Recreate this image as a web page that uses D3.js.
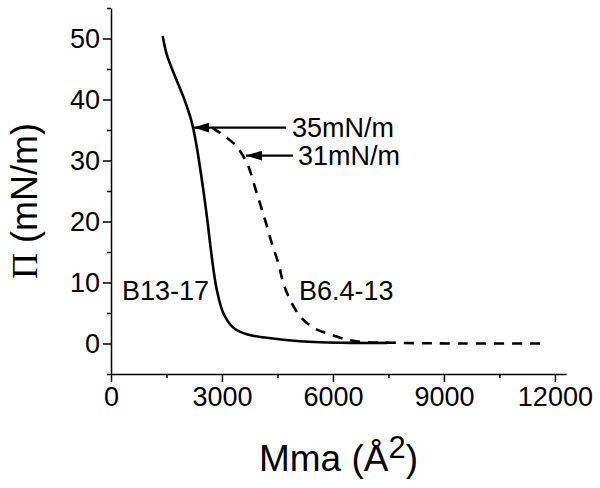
<!DOCTYPE html>
<html>
<head>
<meta charset="utf-8">
<script src="https://cdn.jsdelivr.net/npm/d3@7"></script>
<style>
  body { margin: 0; background: #fff; }
  svg { display: block; font-family: "Liberation Sans", Arial, sans-serif; }
</style>
</head>
<body>
<div id="chart"></div>
<script>
// B13-17 isotherm (solid): mean molecular area vs surface pressure
const solidArea = [1397, 1506, 1730, 1954, 2135, 2210, 2290, 2360, 2495, 2603, 2722, 2857, 3035, 3306, 3668, 4209, 5109, 6460, 7460];
const solidPi   = [50.4, 47.4, 43.8, 40.5, 37.3, 35.6, 33.2, 30.7, 25.2, 20.3, 14.3, 8.9, 5.0, 2.6, 1.5, 0.93, 0.38, 0.11, 0.1];

// B6.4-13 isotherm (dashed)
const dashArea = [2730, 3000, 3352, 3576, 3711, 3938, 4163, 4344, 4522, 4657, 4838, 5109, 5468, 5920, 6371, 6730, 7812, 9500, 11812];
const dashPi   = [35.4, 34.3, 32.6, 30.7, 29.1, 24.7, 20.3, 16.5, 13.2, 9.95, 7.2, 4.5, 2.6, 1.5, 0.66, 0.3, 0.1, 0.0, 0.0];

// axes
const xTicks = [0, 3000, 6000, 9000, 12000];
const xMinor = [1500, 4500, 7500, 10500];
const yTicks = [0, 10, 20, 30, 40, 50];
const yMinor = [-5, 5, 15, 25, 35, 45, 55];

// arrow annotations: tip area, tail area, pressure, text
const arrowLabels = ["35mN/m", "31mN/m"];
const arrowTip    = [2230, 3650];
const arrowTail   = [4730, 4920];
const arrowPi     = [35.4, 30.8];
const arrowTextX  = [4892, 5054];

// curve labels
const curveLabels = ["B13-17", "B6.4-13"];
const curveLabelX = [297, 5082];
const curveLabelY = [7.2, 7.2];

const width = 600, height = 488;
const margin = { left: 111, right: 34, top: 8, bottom: 114 };

const svg = d3.select('#chart')
    .append('svg')
    .attr('width', width)
    .attr('height', height);

const x = d3.scaleLinear().domain([0, 12300]).range([margin.left, width - margin.right]);
const y = d3.scaleLinear().domain([-5, 55]).range([height - margin.bottom, margin.top]);

const fs = 27;

// minor ticks
svg.append('g')
    .attr('transform', `translate(0,${y(-5)})`)
    .call(d3.axisBottom(x).tickValues(xMinor).tickSize(4).tickFormat(''))
    .call(g => g.select('.domain').remove())
    .selectAll('line').attr('stroke-width', 1.5);

svg.append('g')
    .attr('transform', `translate(${x(0)},0)`)
    .call(d3.axisLeft(y).tickValues(yMinor).tickSize(4).tickFormat(''))
    .call(g => g.select('.domain').remove())
    .selectAll('line').attr('stroke-width', 1.5);

// major axes
const xAxis = svg.append('g')
    .attr('transform', `translate(0,${y(-5)})`)
    .call(d3.axisBottom(x).tickValues(xTicks).tickSize(8).tickPadding(5).tickSizeOuter(0).tickFormat(d3.format('d')));

const yAxis = svg.append('g')
    .attr('transform', `translate(${x(0)},0)`)
    .call(d3.axisLeft(y).tickValues(yTicks).tickSize(8).tickPadding(3).tickSizeOuter(0).tickFormat(d3.format('d')));

[xAxis, yAxis].forEach(g => {
    g.select('.domain').attr('stroke-width', 1.5);
    g.selectAll('line').attr('stroke-width', 1.5);
    g.selectAll('text')
        .attr('font-family', '"Liberation Sans", Arial, sans-serif')
        .attr('font-size', fs)
        .attr('fill', '#000');
});

// axis titles
const xTitle = svg.append('text')
    .attr('x', (x.range()[0] + x.range()[1]) / 2)
    .attr('y', 471)
    .attr('text-anchor', 'middle')
    .attr('font-size', 37);
xTitle.append('tspan').text('Mma (Å');
xTitle.append('tspan').attr('dy', -13).attr('font-size', 31).text('2');
xTitle.append('tspan').attr('dy', 13).text(')');

const yTitle = svg.append('text')
    .attr('transform', `translate(37,${(y.range()[0] + y.range()[1]) / 2 + 10}) rotate(-90)`)
    .attr('text-anchor', 'middle')
    .attr('font-size', 36);
yTitle.append('tspan').attr('font-family', '"Liberation Serif", "Times New Roman", serif').text('Π');
yTitle.append('tspan').text(' (mN/m)');

// curves
const line = d3.line()
    .x(d => x(d[0]))
    .y(d => y(d[1]))
    .curve(d3.curveCatmullRom.alpha(0.5));

svg.append('path')
    .datum(d3.zip(solidArea, solidPi))
    .attr('d', line)
    .attr('fill', 'none')
    .attr('stroke', '#000')
    .attr('stroke-width', 2.6);

svg.append('path')
    .datum(d3.zip(dashArea, dashPi))
    .attr('d', line)
    .attr('fill', 'none')
    .attr('stroke', '#000')
    .attr('stroke-width', 2.6)
    .attr('stroke-dasharray', '10,8');

// arrows (head points left, toward the curve)
svg.append('defs').append('marker')
    .attr('id', 'arrowhead')
    .attr('viewBox', '0 0 16 10')
    .attr('refX', 0)
    .attr('refY', 5)
    .attr('markerUnits', 'userSpaceOnUse')
    .attr('markerWidth', 16)
    .attr('markerHeight', 10)
    .attr('orient', 'auto')
    .append('path')
    .attr('d', 'M0,5 L16,0 L16,10 Z')
    .attr('fill', '#000');

const arrows = svg.append('g');
arrowLabels.forEach((label, i) => {
    arrows.append('line')
        .attr('x1', x(arrowTip[i]))
        .attr('x2', x(arrowTail[i]))
        .attr('y1', y(arrowPi[i]))
        .attr('y2', y(arrowPi[i]))
        .attr('stroke', '#000')
        .attr('stroke-width', 2.2)
        .attr('marker-start', 'url(#arrowhead)');
    arrows.append('text')
        .attr('x', x(arrowTextX[i]))
        .attr('y', y(arrowPi[i]))
        .attr('dy', '0.36em')
        .attr('font-size', fs)
        .text(label);
});

// curve labels
svg.append('g').selectAll('text')
    .data(curveLabels)
    .join('text')
    .attr('x', (d, i) => x(curveLabelX[i]))
    .attr('y', (d, i) => y(curveLabelY[i]))
    .attr('font-size', fs)
    .text(d => d);
</script>
</body>
</html>
